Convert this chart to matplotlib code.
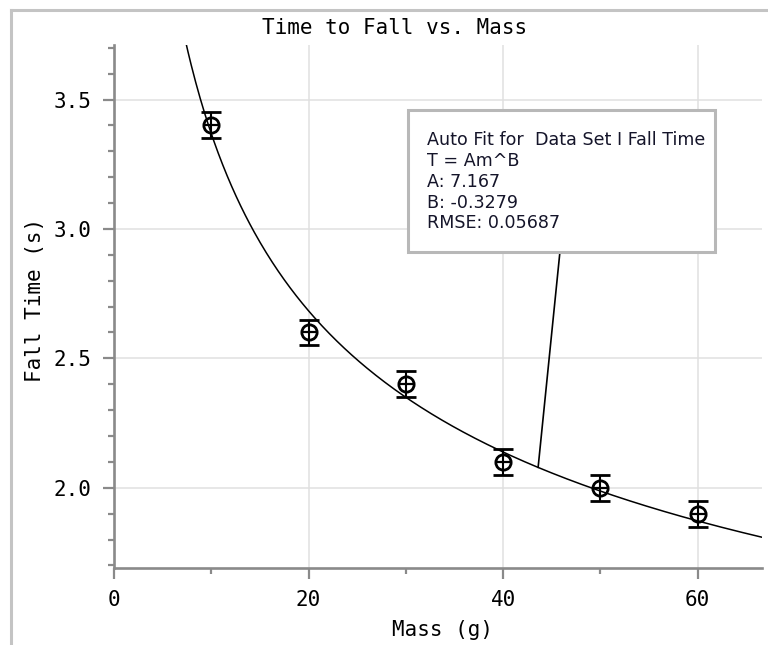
import numpy as np
import matplotlib
matplotlib.use('Agg')
import matplotlib.pyplot as plt
from matplotlib.lines import Line2D
from matplotlib.patches import Rectangle
from matplotlib.ticker import MultipleLocator

# measured data
mass = [10, 20, 30, 40, 50, 60]
fall_time = [3.40, 2.60, 2.40, 2.10, 2.00, 1.90]
time_err = [0.05, 0.05, 0.05, 0.05, 0.05, 0.05]

# power-law fit reported by the software
fit_A = 7.167
fit_B = -0.3279
fit_rmse = 0.05687
leader_mass = 43.6

fit_lines = ['Auto Fit for  Data Set I Fall Time',
             'T = Am^B',
             'A: %.3f' % fit_A,
             'B: %.4f' % fit_B,
             'RMSE: %.5f' % fit_rmse]

mono = 'DejaVu Sans Mono'
axis_gray = '#8a8a8a'


def main():
    fig = plt.figure(figsize=(7.68, 6.45), dpi=100)
    ax = fig.add_axes([0.1484, 0.1194, 0.8436, 0.8106])

    # outer frame (only top and left edges are visible)
    fig.add_artist(Line2D([0.0143, 1.0], [0.9845, 0.9845], color='#c4c4c4', lw=2.2))
    fig.add_artist(Line2D([0.0143, 0.0143], [0.0, 0.9845], color='#c4c4c4', lw=2.2))

    ax.set_xlim(0, 66.6)
    ax.set_ylim(1.69, 3.71)

    xs = np.linspace(5, 66.6, 400)
    ax.plot(xs, fit_A * xs ** fit_B, color='black', lw=1.1, zorder=3)

    ax.errorbar(mass, fall_time, yerr=time_err, fmt='o', ms=11, mfc='none',
                mec='black', mew=2.0, ecolor='black', elinewidth=1.5,
                capsize=7.5, capthick=1.5, zorder=4)
    ax.plot(mass, fall_time, ls='none', marker='_', ms=11, mew=1.6,
            color='black', zorder=4)

    ax.xaxis.set_major_locator(MultipleLocator(20))
    ax.xaxis.set_minor_locator(MultipleLocator(10))
    ax.yaxis.set_major_locator(MultipleLocator(0.5))
    ax.yaxis.set_minor_locator(MultipleLocator(0.1))
    ax.set_yticks([2.0, 2.5, 3.0, 3.5])
    ax.set_yticklabels(['2.0', '2.5', '3.0', '3.5'])

    ax.grid(True, which='major', color='#e0e0e0', lw=1.1, zorder=0)
    for side in ['top', 'right']:
        ax.spines[side].set_visible(False)
    for side in ['left', 'bottom']:
        ax.spines[side].set_color(axis_gray)
        ax.spines[side].set_linewidth(1.9)

    ax.tick_params(which='major', length=8, width=1.6, color=axis_gray,
                   pad=8, labelsize=15)
    ax.tick_params(which='minor', length=4, width=1.6, color=axis_gray)
    for lab in ax.get_xticklabels() + ax.get_yticklabels():
        lab.set_family(mono)

    fig.text(0.514, 0.957, 'Time to Fall vs. Mass', family=mono, fontsize=15,
             ha='center', va='center')
    fig.text(0.576, 0.024, 'Mass (g)', family=mono, fontsize=15,
             ha='center', va='center')
    fig.text(0.046, 0.535, 'Fall Time (s)', family=mono, fontsize=15,
             ha='center', va='center', rotation=90)

    # fit info box with leader line to the curve
    ax.add_patch(Rectangle((0.4537, 0.6042), 0.4738, 0.2715, transform=ax.transAxes,
                           facecolor='white', edgecolor='#b8b8b8', lw=2.2, zorder=5))
    ax.text(0.483, 0.8356, '\n'.join(fit_lines), transform=ax.transAxes,
            fontsize=12.6, family='DejaVu Sans', va='top', ha='left',
            linespacing=1.2, color='#15152a', zorder=6)
    ax.annotate('', xy=(leader_mass, fit_A * leader_mass ** fit_B),
                xytext=(0.6883, 0.6042), textcoords='axes fraction',
                arrowprops=dict(arrowstyle='-', color='black', lw=1.2,
                                shrinkA=0, shrinkB=0), zorder=4)

    plt.savefig('out.png', dpi=100)
    return


if __name__ == '__main__':
    main()
